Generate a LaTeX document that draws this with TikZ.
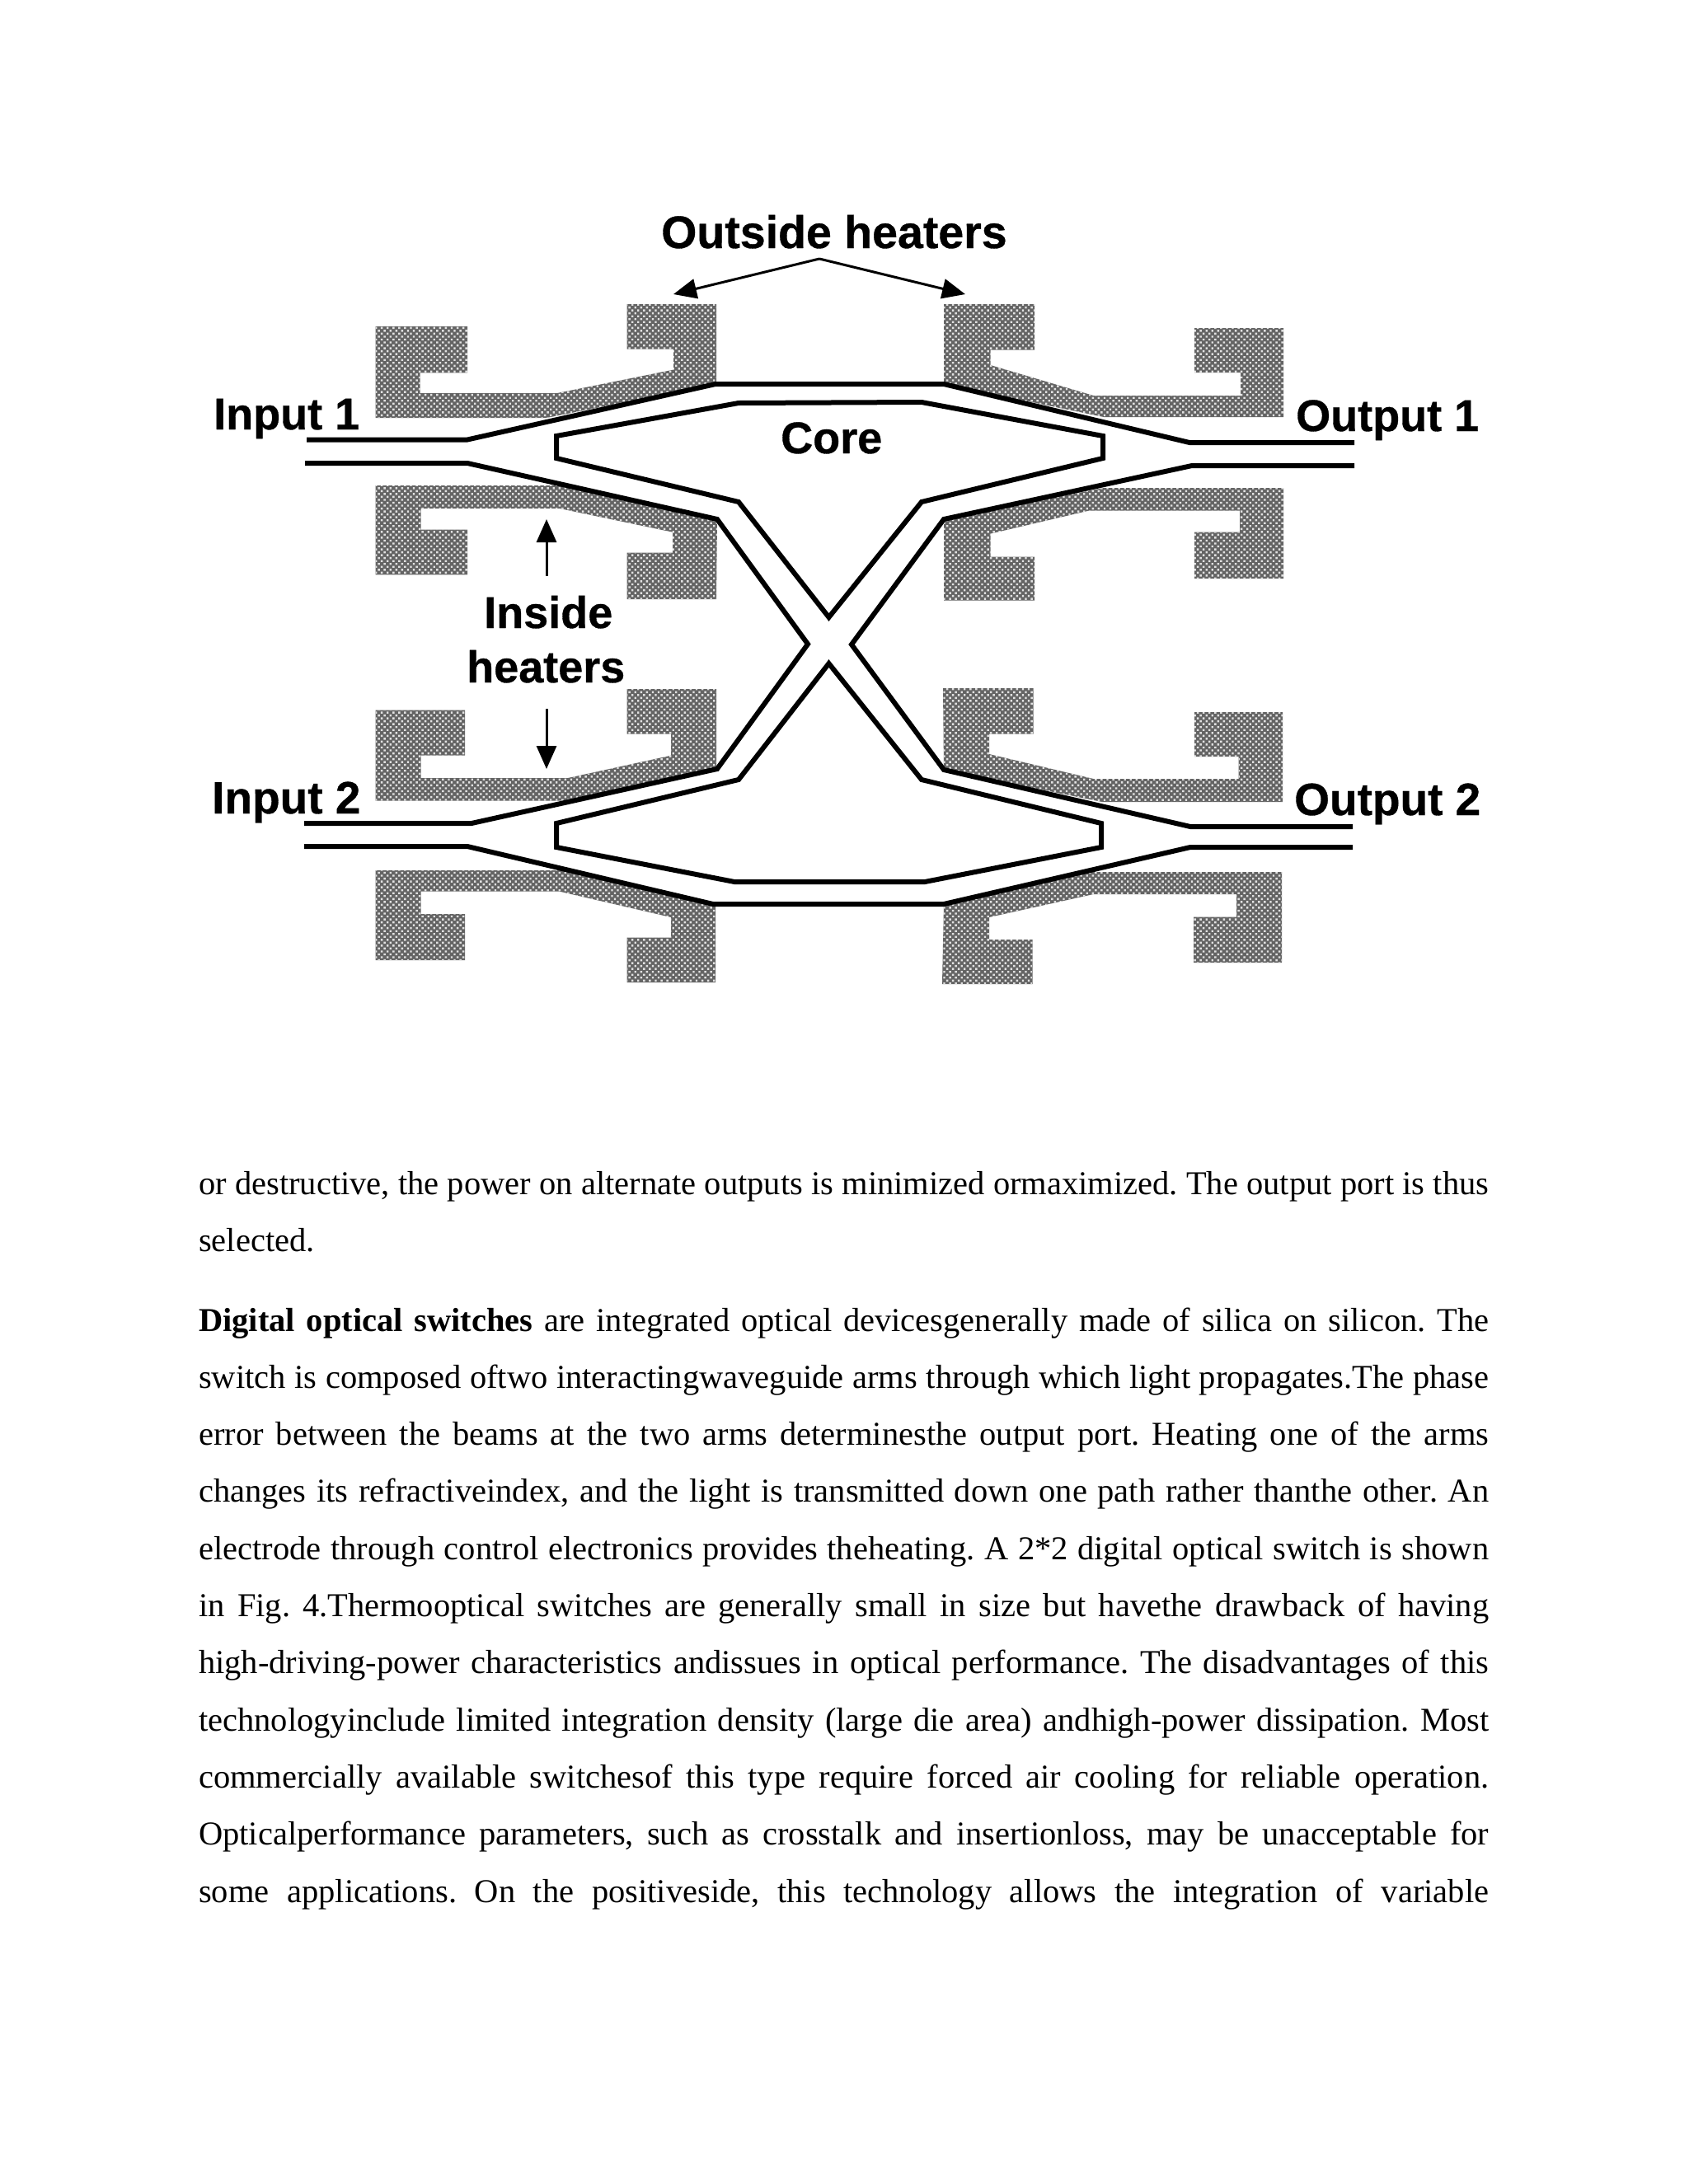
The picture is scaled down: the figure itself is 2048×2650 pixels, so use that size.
\documentclass[tikz,border=0pt]{standalone}
\usepackage{fontspec}
\setmainfont{Liberation Serif}
\newfontfamily\labelfont{Liberation Sans}[BoldFont={Liberation Sans Bold},BoldFeatures={FakeBold=0.6}]
\usetikzlibrary{arrows.meta,patterns.meta}
\frenchspacing
\tikzset{
  heater/.style={pattern={Dots[distance=5pt,radius=1.7pt,angle=45]},pattern color={rgb,255:red,225;green,225;blue,225},draw=none},
  heaterbase/.style={fill={rgb,255:red,100;green,100;blue,100},draw=none},
  guide/.style={draw=black,line width=6pt,line join=miter,fill=none},
  pointer/.style={draw=black,line width=3pt,-{Triangle[length=28pt,width=24pt]}},
  partlabel/.style={inner sep=0pt,anchor=base west,font=\labelfont\bfseries\fontsize{54}{60}\selectfont},
  bodyline/.style={inner sep=0pt,anchor=base west,font=\fontsize{40.5}{50}\selectfont},
}
\newcommand{\jline}[1]{\makebox[1565pt][s]{#1}}
\begin{document}
\begin{tikzpicture}[x=1pt,y=-1pt]
\useasboundingbox[fill=white] (0,0) rectangle (2048,2650);
% heaters
\foreach \p in {
 {(455.5,396) -- (567,396) -- (567,452.4) -- (509.6,452.4) -- (509.6,477) -- (676,477) -- (817,448.6) -- (817,423.7) -- (760.6,423.7) -- (760.6,369) -- (869,369) -- (869,466) -- (663,507) -- (455.5,507) -- cycle},
 {(455.5,589) -- (685,589) -- (870,630) -- (869,727) -- (760.6,727) -- (760.6,670.5) -- (816,670.5) -- (816,645.7) -- (679,617) -- (510.6,617) -- (510.6,642.6) -- (567,642.6) -- (567,697.3) -- (455.5,697.3) -- cycle},
 {(1145,369) -- (1255,369) -- (1255,424.5) -- (1201.5,424.5) -- (1201.5,443) -- (1326.5,480) -- (1505,480) -- (1505,452) -- (1449,452) -- (1449,398) -- (1557,398) -- (1557,506) -- (1339,506) -- (1145,466) -- cycle},
 {(1145,630) -- (1339,592) -- (1557,592) -- (1557,702) -- (1449,702) -- (1449,645.7) -- (1504,645.7) -- (1504,619.6) -- (1321,619.6) -- (1201.5,647.6) -- (1201.5,675.5) -- (1255,675.5) -- (1255,728.7) -- (1145,728.7) -- cycle},
 {(455.5,861.7) -- (564,861.7) -- (564,916.7) -- (510.6,916.7) -- (510.6,944) -- (689,944) -- (814,916.7) -- (814,890.7) -- (760.6,890.7) -- (760.6,836) -- (869,836) -- (869,932.7) -- (695,971.7) -- (455.5,971.7) -- cycle},
 {(455.5,1056) -- (690,1056) -- (868,1097) -- (868,1192) -- (760.6,1192) -- (760.6,1137.7) -- (814,1137.7) -- (814,1113) -- (679,1081.7) -- (510.6,1081.7) -- (510.6,1109) -- (564,1109) -- (564,1165) -- (455.5,1165) -- cycle},
 {(1144,835) -- (1253.6,835) -- (1253.6,890.7) -- (1200,890.7) -- (1200,915) -- (1326.5,945) -- (1502.5,945) -- (1502.5,918) -- (1449,918) -- (1449,864) -- (1556,864) -- (1556,973) -- (1337,973) -- (1145,934) -- cycle},
 {(1145,1097) -- (1314,1058) -- (1555,1058) -- (1555,1168) -- (1448,1168) -- (1448,1112.7) -- (1500,1112.7) -- (1500,1085) -- (1326.5,1085) -- (1200,1113) -- (1200,1140) -- (1252.5,1140) -- (1252.5,1194) -- (1143,1194) -- cycle}
}{
  \path[heaterbase] \p;
  \path[heater] \p;
}
% waveguide outer walls
\draw[guide] (372,533.5) -- (567,533.5) -- (868,466) -- (1145,466) -- (1443,537) -- (1643,537);
\draw[guide] (370,562) -- (567,562) -- (870,630) -- (980,781.5) -- (870,933) -- (572,999) -- (369,999);
\draw[guide] (369,1027) -- (567,1027) -- (865,1097) -- (1145,1097) -- (1444,1028) -- (1641,1028);
\draw[guide] (1641,1003) -- (1444,1003) -- (1145,934) -- (1033,782) -- (1145,630) -- (1446,565) -- (1643,565);
% core walls
\draw[guide] (1005.5,749) -- (896,609) -- (675,556) -- (675,529) -- (896,489) -- (1118,488) -- (1338,529) -- (1338,556) -- (1118,609) -- cycle;
\draw[guide] (1005.5,805) -- (896,946) -- (675,999) -- (675,1028) -- (891,1070) -- (1122,1070) -- (1336,1028) -- (1336,999) -- (1118,946) -- cycle;
% labels
\node[partlabel,font=\labelfont\bfseries\fontsize{55.5}{60}\selectfont] (outside) at (802,301) {Outside heaters};
\node[partlabel] (core) at (947,550) {Core};
\node[partlabel] (in1) at (259,521) {Input 1};
\node[partlabel] (out1) at (1572,523) {Output 1};
\node[partlabel,font=\labelfont\bfseries\fontsize{55}{60}\selectfont] (in2) at (257,987) {Input 2};
\node[partlabel,font=\labelfont\bfseries\fontsize{55}{60}\selectfont] (out2) at (1570,989) {Output 2};
\node[partlabel] (inside) at (587,762) {Inside};
\node[partlabel] (heaters) at (566,828) {heaters};
% pointers
\coordinate (apex) at (994,314);
\coordinate (tipl) at (817,357);
\coordinate (tipr) at (1171,357);
\coordinate (upfoot) at (663,699);
\coordinate (uptip) at (663,630);
\coordinate (downtop) at (663,860);
\coordinate (downtip) at (663,933);
\draw[pointer] (apex) -- (tipl);
\draw[pointer] (apex) -- (tipr);
\draw[pointer] (upfoot) -- (uptip);
\draw[pointer] (downtop) -- (downtip);
% body text
\node[bodyline] (t1) at (241,1449) {\jline{or destructive, the power on alternate outputs is minimized ormaximized. The output port is thus}};
\node[bodyline] (t2) at (241,1518.3) {selected.};
\node[bodyline] (t3) at (241,1615) {\jline{\textbf{Digital optical switches} are integrated optical devicesgenerally made of silica on silicon. The}};
\node[bodyline] (t4) at (241,1684.3) {\jline{switch is composed oftwo interactingwaveguide arms through which light propagates.The phase}};
\node[bodyline] (t5) at (241,1753.6) {\jline{error between the beams at the two arms determinesthe output port. Heating one of the arms}};
\node[bodyline] (t6) at (241,1822.9) {\jline{changes its refractiveindex, and the light is transmitted down one path rather thanthe other. An}};
\node[bodyline] (t7) at (241,1892.2) {\jline{electrode through control electronics provides theheating. A 2*2 digital optical switch is shown}};
\node[bodyline] (t8) at (241,1961.5) {\jline{in Fig. 4.Thermooptical switches are generally small in size but havethe drawback of having}};
\node[bodyline] (t9) at (241,2030.8) {\jline{high-driving-power characteristics andissues in optical performance. The disadvantages of this}};
\node[bodyline] (t10) at (241,2100.1) {\jline{technologyinclude limited integration density (large die area) andhigh-power dissipation. Most}};
\node[bodyline] (t11) at (241,2169.4) {\jline{commercially available switchesof this type require forced air cooling for reliable operation.}};
\node[bodyline] (t12) at (241,2238.7) {\jline{Opticalperformance parameters, such as crosstalk and insertionloss, may be unacceptable for}};
\node[bodyline] (t13) at (241,2308) {\jline{some applications. On the positiveside, this technology allows the integration of variable}};
\end{tikzpicture}
\end{document}
